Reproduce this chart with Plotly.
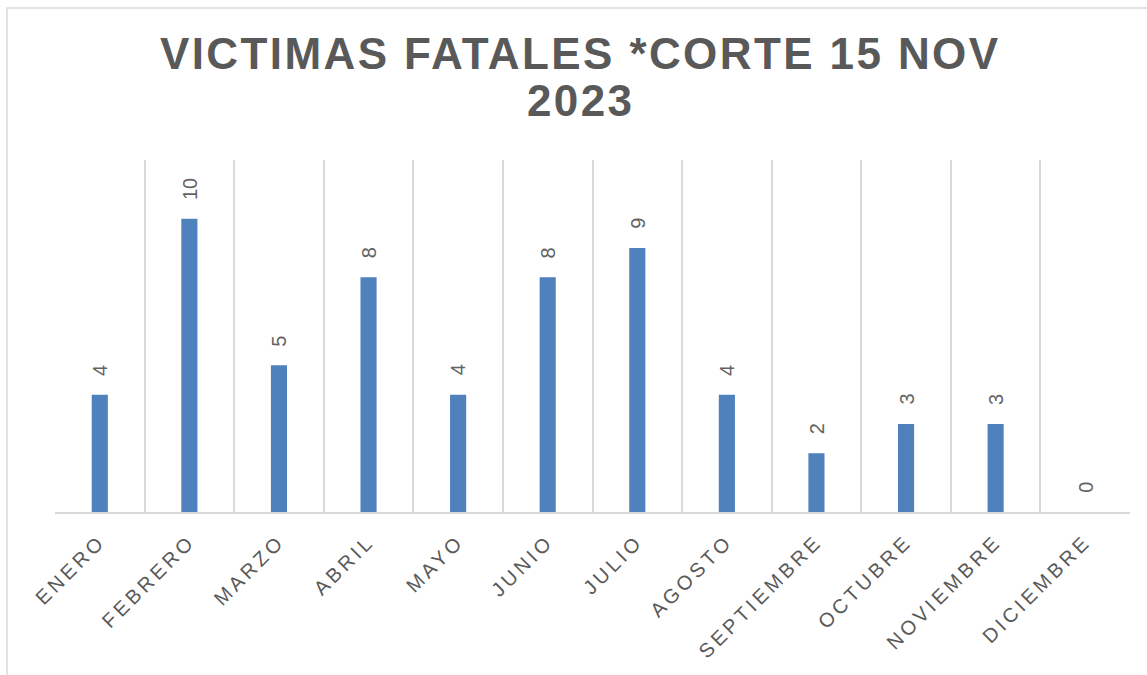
import plotly.graph_objects as go

months = ["ENERO", "FEBRERO", "MARZO", "ABRIL", "MAYO", "JUNIO", "JULIO",
          "AGOSTO", "SEPTIEMBRE", "OCTUBRE", "NOVIEMBRE", "DICIEMBRE"]
victimas = [4, 10, 5, 8, 4, 8, 9, 4, 2, 3, 3, 0]
title_line1 = "VICTIMAS FATALES *CORTE 15 NOV"
title_line2 = "2023"

W, H = 1147, 675
L, R, T, B = 55, 17, 160, 163
PW, PH = W - L - R, H - T - B

def px_x(px):
    return (px - L) / PW

def px_y(py):
    return (H - B - py) / PH

GRAY = "#595959"
GRID = "#d9d9d9"
FONT = "Liberation Sans, Arial, sans-serif"

fig = go.Figure()
fig.add_trace(go.Bar(
    x=months, y=victimas,
    marker=dict(color="#4f81bd", line=dict(width=0)),
    width=0.18,
    hoverinfo="x+y",
))

annotations = []
for m, v in zip(months, victimas):
    annotations.append(dict(
        x=m, y=v, xref="x", yref="y", text=str(v), showarrow=False,
        textangle=-90, yanchor="bottom", xanchor="center", yshift=17,
        font=dict(family=FONT, size=20, color="#636363"),
    ))

annotations.append(dict(
    x=px_x(580), y=px_y(53), xref="paper", yref="paper",
    text=f'<span style="letter-spacing:2.4px">{title_line1}</span>',
    showarrow=False, xanchor="center", yanchor="middle",
    font=dict(family=FONT, size=44, color=GRAY, weight="bold"),
))
annotations.append(dict(
    x=px_x(580), y=px_y(101), xref="paper", yref="paper",
    text=f'<span style="letter-spacing:2.4px">{title_line2}</span>',
    showarrow=False, xanchor="center", yanchor="middle",
    font=dict(family=FONT, size=44, color=GRAY, weight="bold"),
))

ticktext = [f'<span style="letter-spacing:3.6px">{m}</span>' for m in months]

fig.update_layout(
    width=W, height=H,
    margin=dict(l=L, r=R, t=T, b=B, pad=0),
    paper_bgcolor="white", plot_bgcolor="white",
    showlegend=False,
    annotations=annotations,
    shapes=[dict(type="rect", xref="paper", yref="paper",
                 x0=px_x(7), x1=px_x(1160), y0=px_y(8), y1=px_y(690),
                 line=dict(color=GRID, width=1.5), layer="below")],
    xaxis=dict(
        type="category", tickson="boundaries", showgrid=True,
        gridcolor=GRID, gridwidth=1.8, showline=True, linecolor=GRID,
        linewidth=1.8, ticks="", tickangle=-45, ticklabelstandoff=8,
        tickvals=months, ticktext=ticktext,
        tickfont=dict(family=FONT, size=20, color=GRAY),
        range=[-0.5, 11.5], fixedrange=True,
    ),
    yaxis=dict(range=[0, 12], visible=False, showgrid=False,
               zeroline=False, fixedrange=True),
)

fig.write_html("out.html", config={"displayModeBar": False},
               post_script="document.body.style.margin='0';")
